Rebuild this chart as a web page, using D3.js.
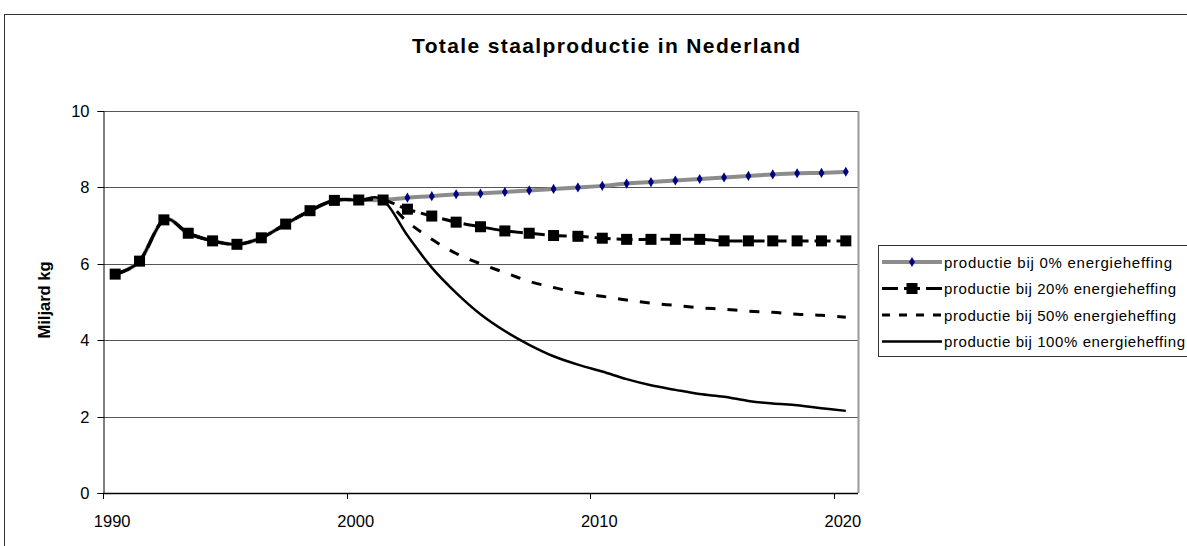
<!DOCTYPE html>
<html>
<head>
<meta charset="utf-8">
<script src="https://cdn.jsdelivr.net/npm/d3@7"></script>
<style>
  html, body { margin: 0; padding: 0; background: #fff; }
  svg { display: block; font-family: Arial, "Liberation Sans", sans-serif; }
</style>
</head>
<body>
<svg id="chart" width="1187" height="546"></svg>
<script>
// Years on the category axis
const years = d3.range(1990, 2021);

// Historic production 1990-2001 (shared by all scenarios), billion kg
const history = [5.73, 6.07, 7.15, 6.80, 6.60, 6.51, 6.68, 7.04, 7.39, 7.66, 7.67, 7.67];

// Scenario projections 2002-2020
const levy0   = [7.73, 7.77, 7.82, 7.84, 7.88, 7.92, 7.96, 8.00, 8.04, 8.10, 8.14, 8.18, 8.22, 8.26, 8.30, 8.34, 8.37, 8.38, 8.41];
const levy20  = [7.43, 7.25, 7.09, 6.97, 6.86, 6.80, 6.74, 6.72, 6.67, 6.64, 6.64, 6.64, 6.64, 6.60, 6.60, 6.60, 6.60, 6.60, 6.60];
const levy50  = [7.10, 6.64, 6.27, 6.00, 5.77, 5.54, 5.38, 5.24, 5.15, 5.05, 4.97, 4.91, 4.85, 4.81, 4.76, 4.73, 4.68, 4.65, 4.60];
const levy100 = [6.74, 5.90, 5.24, 4.68, 4.24, 3.88, 3.58, 3.36, 3.18, 2.98, 2.82, 2.70, 2.59, 2.52, 2.41, 2.34, 2.30, 2.22, 2.15];

const seriesNames = [
  "productie bij 0% energieheffing",
  "productie bij 20% energieheffing",
  "productie bij 50% energieheffing",
  "productie bij 100% energieheffing"
];

const yTicks = [0, 2, 4, 6, 8, 10];
const xLabels = [1990, 2000, 2010, 2020];

const title = "Totale staalproductie in Nederland";
const yTitle = "Miljard kg";

// ---- layout ----
const svg = d3.select("#chart");
const plot = { left: 103, right: 858, top: 111, bottom: 493 };

const x = d3.scalePoint().domain(years).range([plot.left, plot.right]).padding(0.5);
const step = x.step();
const y = d3.scaleLinear().domain([0, 10]).range([plot.bottom, plot.top]);

// outer chart frame
svg.append("rect")
  .attr("x", 4.5).attr("y", 14.5).attr("width", 1300).attr("height", 600)
  .attr("fill", "#fff").attr("stroke", "#333").attr("stroke-width", 1);

// title
svg.append("text")
  .attr("x", 606).attr("y", 53)
  .attr("text-anchor", "middle")
  .style("font-size", "21px").attr("font-weight", "bold")
  .attr("textLength", 388).attr("lengthAdjust", "spacing")
  .text(title);

// gridlines
svg.append("g").selectAll("line").data(yTicks.filter(d => d > 0)).join("line")
  .attr("x1", plot.left).attr("x2", plot.right)
  .attr("y1", d => Math.round(y(d)) + 0.5).attr("y2", d => Math.round(y(d)) + 0.5)
  .attr("stroke", "#555").attr("stroke-width", 1);

// plot area right border
svg.append("line")
  .attr("x1", plot.right + 0.5).attr("x2", plot.right + 0.5)
  .attr("y1", plot.top).attr("y2", plot.bottom)
  .attr("stroke", "#999").attr("stroke-width", 2);

// y axis
const yAxis = d3.axisLeft(y).tickValues(yTicks).tickSize(6).tickPadding(8).tickFormat(d3.format("d"));
const gy = svg.append("g").attr("transform", `translate(${plot.left + 0.5},0)`).call(yAxis);
gy.attr("font-size", null).attr("font-family", null);
gy.select(".domain").attr("stroke", "#000");
gy.selectAll(".tick line").attr("stroke", "#000");
gy.selectAll(".tick text").style("font-size", "16.5px").attr("fill", "#000").attr("dy", "0.36em");
gy.selectAll(".tick").attr("transform", d => `translate(0,${Math.round(y(d)) + 0.5})`);

// x axis: ticks on category boundaries every 10 years, labels at category centres
const gx = svg.append("g");
gx.append("line")
  .attr("x1", plot.left).attr("x2", plot.right)
  .attr("y1", plot.bottom + 0.5).attr("y2", plot.bottom + 0.5)
  .attr("stroke", "#000").attr("stroke-width", 1.5);
gx.selectAll("line.tk").data(xLabels).join("line").attr("class", "tk")
  .attr("x1", d => Math.round(x(d) - step / 2) + 0.5).attr("x2", d => Math.round(x(d) - step / 2) + 0.5)
  .attr("y1", plot.bottom).attr("y2", plot.bottom + 6)
  .attr("stroke", "#000");
gx.selectAll("text").data(xLabels).join("text")
  .attr("x", d => x(d) - 3).attr("y", 527)
  .attr("text-anchor", "middle")
  .style("font-size", "16.5px")
  .text(d => d);

// y axis title
svg.append("text")
  .attr("transform", "translate(50,300) rotate(-90)")
  .attr("text-anchor", "middle")
  .style("font-size", "16.5px").attr("font-weight", "bold")
  .text(yTitle);

// ---- series ----
function full(proj) {
  return history.concat(proj).map((v, i) => ({ year: years[i], value: v }));
}
const data0 = full(levy0), data20 = full(levy20), data50 = full(levy50), data100 = full(levy100);

const line = d3.line()
  .x(d => x(d.year)).y(d => y(d.value))
  .curve(d3.curveCatmullRom.alpha(0));

const lines = svg.append("g").attr("fill", "none");

// 0% scenario: thick gray line with navy diamonds
lines.append("path").datum(data0).attr("d", line)
  .attr("stroke", "#8c8c8c").attr("stroke-width", 4);
const diamond = d3.symbol().type(d3.symbolDiamond).size(30);
svg.append("g").selectAll("path").data(data0).join("path")
  .attr("transform", d => `translate(${x(d.year)},${y(d.value)})`)
  .attr("d", diamond).attr("fill", "#000080");

// 20% scenario: long dashes with black squares
lines.append("path").datum(data20).attr("d", line)
  .attr("stroke", "#000").attr("stroke-width", 3).attr("stroke-dasharray", "16,6");
svg.append("g").selectAll("rect").data(data20).join("rect")
  .attr("x", d => x(d.year) - 5.5).attr("y", d => y(d.value) - 5.5)
  .attr("width", 11).attr("height", 11).attr("fill", "#000");

// 50% scenario: short dashes
lines.append("path").datum(data50).attr("d", line)
  .attr("stroke", "#000").attr("stroke-width", 3).attr("stroke-dasharray", "10,12");

// 100% scenario: solid line
lines.append("path").datum(data100).attr("d", line)
  .attr("stroke", "#000").attr("stroke-width", 2.5);

// ---- legend ----
const lg = svg.append("g");
lg.append("rect")
  .attr("x", 878.5).attr("y", 245.5).attr("width", 400).attr("height", 111)
  .attr("fill", "#fff").attr("stroke", "#333");
const rowY = [262, 288.5, 315, 341.5];
const textLen = [228, 232, 232, 241];
const lx1 = 882, lx2 = 942;

// sample 0%
lg.append("line").attr("x1", lx1).attr("x2", lx2).attr("y1", rowY[0]).attr("y2", rowY[0])
  .attr("stroke", "#8c8c8c").attr("stroke-width", 4);
lg.append("path").attr("transform", `translate(${(lx1 + lx2) / 2},${rowY[0]})`)
  .attr("d", diamond).attr("fill", "#000080");
// sample 20%
lg.append("line").attr("x1", lx1).attr("x2", lx2).attr("y1", rowY[1]).attr("y2", rowY[1])
  .attr("stroke", "#000").attr("stroke-width", 3).attr("stroke-dasharray", "16,6");
lg.append("rect").attr("x", (lx1 + lx2) / 2 - 5.5).attr("y", rowY[1] - 5.5)
  .attr("width", 11).attr("height", 11).attr("fill", "#000");
// sample 50%
lg.append("line").attr("x1", lx1).attr("x2", lx2).attr("y1", rowY[2]).attr("y2", rowY[2])
  .attr("stroke", "#000").attr("stroke-width", 3).attr("stroke-dasharray", "8,9");
// sample 100%
lg.append("line").attr("x1", lx1).attr("x2", lx2).attr("y1", rowY[3]).attr("y2", rowY[3])
  .attr("stroke", "#000").attr("stroke-width", 2.5);

lg.selectAll("text").data(seriesNames).join("text")
  .attr("x", 944).attr("y", (d, i) => rowY[i] + 5.5)
  .style("font-size", "15px")
  .attr("textLength", (d, i) => textLen[i]).attr("lengthAdjust", "spacing")
  .text(d => d);
</script>
</body>
</html>
